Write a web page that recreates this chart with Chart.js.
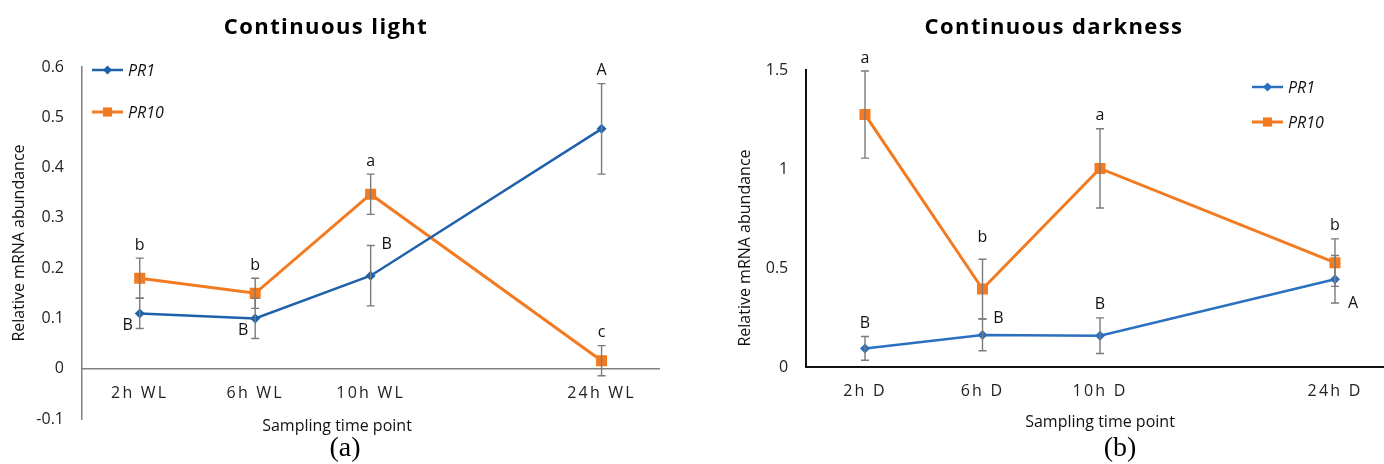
<!DOCTYPE html>
<html><head><meta charset="utf-8">
<script src="https://cdn.jsdelivr.net/npm/chart.js@4.4.1/dist/chart.umd.min.js"></script>
<style>
html,body{margin:0;padding:0;background:#fff;overflow:hidden;width:1384px;height:464px;position:relative;}
#wrapA{position:absolute;left:0;top:0;width:690px;height:464px;}
#wrapB{position:absolute;left:700px;top:0;width:720px;height:464px;}
canvas{display:block;}
</style></head><body>
<div id="wrapA"><canvas id="cA" width="690" height="464" style="width:690px;height:464px"></canvas></div>
<div id="wrapB"><canvas id="cB" width="720" height="464" style="width:720px;height:464px"></canvas></div>
<script>
// ---------- data ----------
const lightCategories = ['2h WL', '6h WL', '10h WL', '', '24h WL'];
const lightPR1 = [0.11, 0.10, 0.185, null, 0.477];
const lightPR1Err = [0.03, 0.04, 0.06, null, 0.09];
const lightPR10 = [0.18, 0.15, 0.347, null, 0.016];
const lightPR10Err = [0.04, 0.03, 0.04, null, 0.03];
const lightPR1Letters = ['B', 'B', 'B', '', 'A'];
const lightPR10Letters = ['b', 'b', 'a', '', 'c'];

const darkCategories = ['2h D', '6h D', '10h D', '', '24h D'];
const darkPR1 = [0.094, 0.162, 0.158, null, 0.443];
const darkPR1Err = [0.06, 0.08, 0.09, null, 0.12];
const darkPR10 = [1.275, 0.394, 1.003, null, 0.527];
const darkPR10Err = [0.22, 0.15, 0.20, null, 0.12];
const darkPR1Letters = ['B', 'B', 'B', '', 'A'];
const darkPR10Letters = ['a', 'b', 'a', '', 'b'];

const seriesNames = ['PR1', 'PR10'];

// ---------- label placement styles (not data) ----------
const lightPR1Place = ['belowLeft', 'belowLeft', 'rightUpper', '', 'above'];
const lightPR10Place = ['above', 'above', 'above', '', 'above'];
const darkPR1Place = ['above', 'rightUpper', 'above', '', 'rightLower'];
const darkPR10Place = ['above', 'aboveFar', 'above', '', 'above'];

const FONT = "'Open Sans', 'Liberation Sans', sans-serif";
Chart.defaults.font.family = FONT;
const ORANGE = '#f27b21';

function fmtTick(v) {
  const s = String(Number(Number(v).toFixed(3)));
  return s === '-0' ? '0' : s;
}

function makePanel(cfg) {
  const plugin = {
    id: 'panelDecor',
    afterDatasetsDraw(chart) {
      const ctx = chart.ctx, xs = chart.scales.x, ys = chart.scales.y;
      chart.data.datasets.forEach((ds, di) => {
        const errs = cfg.errors[di];
        ds.data.forEach((v, i) => {
          if (v == null) return;
          const px = xs.getPixelForValue(i);
          const t = ys.getPixelForValue(v + errs[i]);
          const b = ys.getPixelForValue(v - errs[i]);
          ctx.save();
          ctx.strokeStyle = '#7b7b7b';
          ctx.lineWidth = 1.4;
          ctx.beginPath();
          ctx.moveTo(px, t); ctx.lineTo(px, b);
          ctx.moveTo(px - 4, t); ctx.lineTo(px + 4, t);
          ctx.moveTo(px - 4, b); ctx.lineTo(px + 4, b);
          ctx.stroke();
          ctx.restore();
        });
      });
      // significance letters
      chart.data.datasets.forEach((ds, di) => {
        const letters = cfg.letters[di], place = cfg.places[di], errs = cfg.errors[di];
        ds.data.forEach((v, i) => {
          if (v == null || !letters[i]) return;
          const px = xs.getPixelForValue(i), py = ys.getPixelForValue(v);
          const t = ys.getPixelForValue(v + errs[i]);
          const b = ys.getPixelForValue(v - errs[i]);
          let x = px, y = t - 13;
          switch (place[i]) {
            case 'aboveFar': y = t - 22; break;
            case 'belowLeft': x = px - 12; y = py + 12; break;
            case 'rightUpper': x = px + 16; y = t - 1; break;
            case 'rightLower': x = px + 18; y = b; break;
          }
          ctx.save();
          ctx.fillStyle = '#111';
          ctx.font = '16px ' + FONT;
          ctx.textAlign = 'center';
          ctx.textBaseline = 'middle';
          ctx.fillText(letters[i], x, y);
          ctx.restore();
        });
      });
    },
    afterDraw(chart) {
      const ctx = chart.ctx;
      ctx.save();
      // title
      ctx.fillStyle = '#000';
      ctx.font = 'bold 22px ' + FONT;
      ctx.textAlign = 'center';
      ctx.textBaseline = 'middle';
      if ('letterSpacing' in ctx) ctx.letterSpacing = '1.4px';
      ctx.fillText(cfg.title, cfg.titleX, 28);
      if ('letterSpacing' in ctx) ctx.letterSpacing = '0px';
      // x axis title
      ctx.font = '16px ' + FONT;
      ctx.fillStyle = '#111';
      ctx.fillText('Sampling time point', cfg.xTitle[0], cfg.xTitle[1]);
      // y axis title
      ctx.save();
      ctx.translate(cfg.yTitle[0], cfg.yTitle[1]);
      ctx.rotate(-Math.PI / 2);
      ctx.fillText('Relative mRNA abundance', 0, 0);
      ctx.restore();
      // panel tag
      ctx.font = '28px "Liberation Serif", "DejaVu Serif", serif';
      ctx.fillStyle = '#000';
      ctx.fillText(cfg.tag, cfg.tagPos[0], cfg.tagPos[1]);
      // legend
      chart.data.datasets.forEach((ds, di) => {
        const lx = cfg.legendX, ly = cfg.legendY[di];
        ctx.strokeStyle = ds.borderColor;
        ctx.lineWidth = ds.borderWidth;
        ctx.beginPath(); ctx.moveTo(lx, ly); ctx.lineTo(lx + 31, ly); ctx.stroke();
        ctx.fillStyle = ds.borderColor;
        Chart.helpers.drawPoint(ctx, {pointStyle: ds.pointStyle, radius: di === 0 ? 4.5 : 6.5, borderWidth: 0, rotation: 0}, lx + 15.5, ly);
        ctx.fillStyle = '#111';
        ctx.font = 'italic 16px ' + FONT;
        ctx.textAlign = 'left';
        ctx.fillText(ds.label, lx + 36, ly + 1);
      });
      ctx.restore();
    }
  };

  return new Chart(document.getElementById(cfg.canvas), {
    type: 'line',
    data: {
      labels: cfg.categories,
      datasets: [
        {label: seriesNames[0], data: cfg.values[0], borderColor: cfg.blue, backgroundColor: cfg.blue,
         borderWidth: 2.5, pointStyle: 'rectRot', pointRadius: 5, pointBackgroundColor: cfg.blue,
         pointBorderColor: cfg.blue, pointBorderWidth: 0, spanGaps: true, tension: 0},
        {label: seriesNames[1], data: cfg.values[1], borderColor: ORANGE, backgroundColor: ORANGE,
         borderWidth: 3, pointStyle: 'rect', pointRadius: 7.8, pointBackgroundColor: ORANGE,
         pointBorderColor: ORANGE, pointBorderWidth: 0, spanGaps: true, tension: 0}
      ]
    },
    options: {
      responsive: false,
      animation: false,
      devicePixelRatio: 1,
      layout: {padding: cfg.padding},
      plugins: {legend: {display: false}, title: {display: false}, tooltip: {enabled: false}},
      scales: {
        x: {
          type: 'category', offset: true, position: {y: 0},
          grid: {display: false, drawTicks: false},
          border: {display: true, color: cfg.axisColor, width: cfg.axisWidth},
          ticks: {padding: 15, maxRotation: 0, minRotation: 0, autoSkip: false, color: '#222', font: {size: 16}},
          afterFit(s) {
            s.height = 0;
            if (!s._lsPatched) {
              const orig = s.drawLabels;
              s.drawLabels = function (a) {
                const c = this.ctx; c.save();
                if ('letterSpacing' in c) c.letterSpacing = '2.2px';
                orig.call(this, a); c.restore();
              };
              s._lsPatched = true;
            }
          }
        },
        y: {
          min: cfg.yMin, max: cfg.yMax,
          grid: {display: false, drawTicks: false},
          border: {display: true, color: cfg.axisColor, width: cfg.axisWidth},
          ticks: {stepSize: cfg.yStep, padding: 18, color: '#222', font: {size: 16}, callback: fmtTick},
          afterFit(s) { s.width = cfg.yAxisWidth; }
        }
      }
    },
    plugins: [plugin]
  });
}

makePanel({
  canvas: 'cA', categories: lightCategories,
  values: [lightPR1, lightPR10], errors: [lightPR1Err, lightPR10Err],
  letters: [lightPR1Letters, lightPR10Letters], places: [lightPR1Place, lightPR10Place],
  blue: '#1f62ab', axisColor: '#808080', axisWidth: 1.5,
  yMin: -0.1, yMax: 0.6, yStep: 0.1, yAxisWidth: 82,
  padding: {left: 0, right: 30.7, top: 67, bottom: 45},
  title: 'Continuous light', titleX: 326,
  xTitle: [337, 426], yTitle: [19, 243], tag: '(a)', tagPos: [345, 449],
  legendX: 92, legendY: [70, 112]
});

makePanel({
  canvas: 'cB', categories: darkCategories,
  values: [darkPR1, darkPR10], errors: [darkPR1Err, darkPR10Err],
  letters: [darkPR1Letters, darkPR10Letters], places: [darkPR1Place, darkPR10Place],
  blue: '#2a70bf', axisColor: '#111', axisWidth: 2,
  yMin: 0, yMax: 1.5, yStep: 0.5, yAxisWidth: 106.25,
  padding: {left: 0, right: 26.25, top: 70, bottom: 97},
  title: 'Continuous darkness', titleX: 354,
  xTitle: [400, 422], yTitle: [45, 248], tag: '(b)', tagPos: [420, 449],
  legendX: 552, legendY: [87, 122]
});
</script>
</body></html>
